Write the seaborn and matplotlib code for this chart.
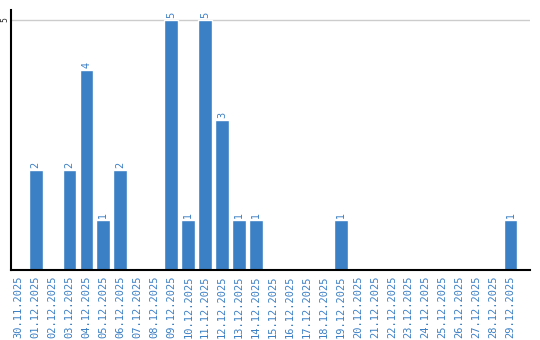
import matplotlib
matplotlib.use("Agg")
import matplotlib.pyplot as plt
import seaborn as sns
import pandas as pd

dates = ["30.11.2025", "01.12.2025", "02.12.2025", "03.12.2025", "04.12.2025",
         "05.12.2025", "06.12.2025", "07.12.2025", "08.12.2025", "09.12.2025",
         "10.12.2025", "11.12.2025", "12.12.2025", "13.12.2025", "14.12.2025",
         "15.12.2025", "16.12.2025", "17.12.2025", "18.12.2025", "19.12.2025",
         "20.12.2025", "21.12.2025", "22.12.2025", "23.12.2025", "24.12.2025",
         "25.12.2025", "26.12.2025", "27.12.2025", "28.12.2025", "29.12.2025"]
counts = [0, 2, 0, 2, 4, 1, 2, 0, 0, 5, 1, 5, 3, 1, 1,
          0, 0, 0, 0, 1, 0, 0, 0, 0, 0, 0, 0, 0, 0, 1]

df = pd.DataFrame({"date": dates, "count": counts})
blue = "#3b7fc4"

sns.set_style("white")
fig = plt.figure(figsize=(5.4, 3.4), dpi=100)
ax = fig.add_axes([11/540, 70/340, 519/540, 260/340])
sns.barplot(data=df, x="date", y="count", color=blue, saturation=1, width=0.82, ax=ax)

ax.set_xlim(-0.45, 30.15)
ax.set_ylim(0, 5.2)
ax.set_yticks([5])
ax.set_yticklabels(["5"], rotation=90, fontsize=5.5, va="center", family="DejaVu Sans")
ax.tick_params(axis="y", length=0, pad=1)
ax.axhline(5, color="#cccccc", lw=1, zorder=0)

ax.set_xticks(range(len(dates)))
ax.set_xticklabels(dates, rotation=90, fontsize=7.5, color=blue, family="DejaVu Sans Mono")
ax.tick_params(axis="x", length=0, pad=4)
ax.set_xlabel("")
ax.set_ylabel("")

for s in ["top", "right"]:
    ax.spines[s].set_visible(False)
for s in ["left", "bottom"]:
    ax.spines[s].set_color("black")
    ax.spines[s].set_linewidth(1.5)

for i, v in enumerate(counts):
    if v > 0:
        ax.text(i, v + 0.04, str(v), rotation=90, ha="center", va="bottom",
                fontsize=7, color=blue, family="DejaVu Sans")

fig.savefig("out.png", dpi=100)
